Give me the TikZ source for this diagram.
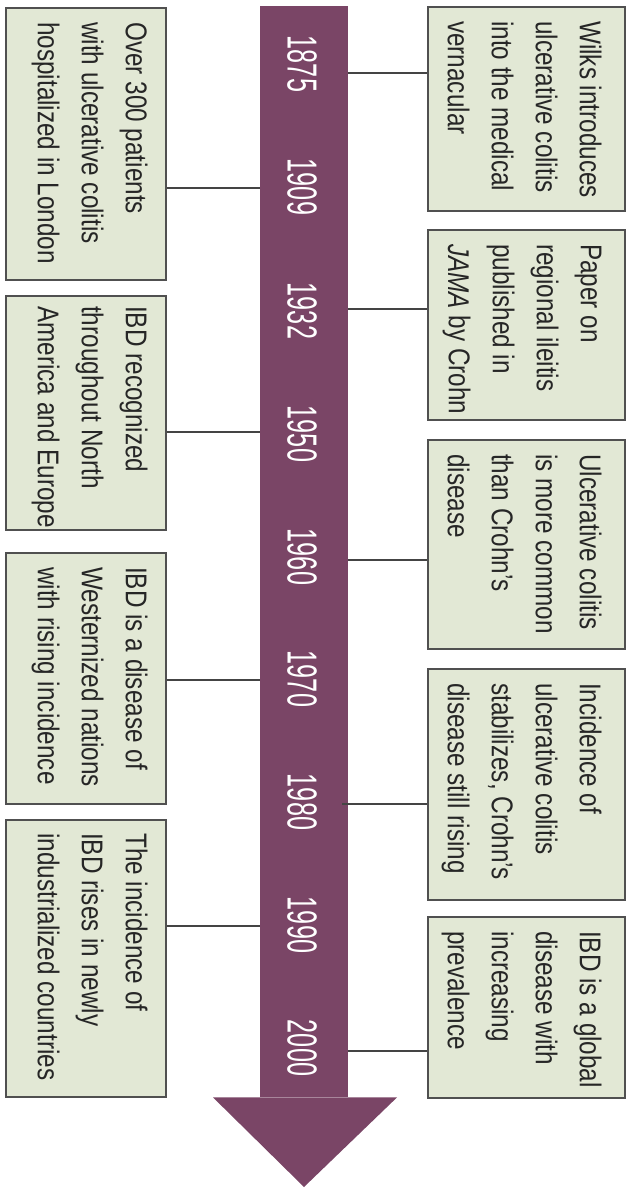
\documentclass[tikz,border=0pt]{standalone}
\usepackage{fontspec}
\setmainfont{Liberation Sans}[FakeStretch=0.81]
\newfontfamily\yearfont{Liberation Sans}[FakeStretch=0.6]
\definecolor{plum}{HTML}{7A4566}
\definecolor{boxfill}{HTML}{E2E8D5}
\definecolor{boxline}{HTML}{505050}
\definecolor{linkline}{HTML}{444444}
\begin{document}
\begin{tikzpicture}[x=1pt,y=-1pt,
  evbox/.style={draw=boxline,fill=boxfill,line width=1.8pt,inner sep=0pt,anchor=north west},
  evtext/.style={rotate=-90,anchor=north west,inner sep=0pt,align=left,
    font=\fontsize{30}{44}\selectfont,text=black!85},
  yearlabel/.style={rotate=-90,inner sep=0pt,text=white,font=\yearfont\fontsize{42}{42}\selectfont},
  link/.style={draw=linkline,line width=1.6pt}]
\useasboundingbox (0,0) rectangle (629,1188);

% timeline shaft and head
\node[fill=plum,inner sep=0pt,minimum width=88,minimum height=1091,anchor=north] (shaft) at (304,6) {};
\fill[plum] ([xshift=-91pt]shaft.south) -- ([xshift=93pt]shaft.south) -- (304,1187) -- cycle;

% years
\node[yearlabel] (y1875) at (302,64) {1875};
\node[yearlabel] (y1909) at (302,187) {1909};
\node[yearlabel] (y1932) at (302,311) {1932};
\node[yearlabel] (y1950) at (302,434) {1950};
\node[yearlabel] (y1960) at (302,557) {1960};
\node[yearlabel] (y1970) at (302,679) {1970};
\node[yearlabel] (y1980) at (302,802) {1980};
\node[yearlabel] (y1990) at (302,925) {1990};
\node[yearlabel] (y2000) at (302,1048) {2000};

% heights where the links meet the shaft
\coordinate (c1875) at (0,73);
\coordinate (c1909) at (0,188);
\coordinate (c1932) at (0,309);
\coordinate (c1950) at (0,432);
\coordinate (c1960) at (0,560);
\coordinate (c1970) at (0,680);
\coordinate (c1980) at (0,804);
\coordinate (c1990) at (0,926);
\coordinate (c2000) at (0,1051);

% right-hand events
\node[evbox,minimum width=197,minimum height=204] (r1875) at (427,6) {};
\node[evbox,minimum width=197,minimum height=190] (r1932) at (427,229) {};
\node[evbox,minimum width=197,minimum height=209] (r1960) at (427,439) {};
\node[evbox,minimum width=197,minimum height=231] (r1980) at (427,668) {};
\node[evbox,minimum width=197,minimum height=181] (r2000) at (427,916) {};

\node[evtext] (t1875) at ([shift={(-24,15)}]r1875.north east) {Wilks introduces\\ulcerative colitis\\into the medical\\vernacular};
\node[evtext] (t1932) at ([shift={(-24,15)}]r1932.north east) {Paper on\\regional ileitis\\published in\\\textit{JAMA} by Crohn};
\node[evtext] (t1960) at ([shift={(-24,15)}]r1960.north east) {Ulcerative colitis\\is more common\\than Crohn’s\\disease};
\node[evtext] (t1980) at ([shift={(-24,15)}]r1980.north east) {Incidence of\\ulcerative colitis\\stabilizes, Crohn’s\\disease still rising};
\node[evtext] (t2000) at ([shift={(-24,15)}]r2000.north east) {IBD is a global\\disease with\\increasing\\prevalence};

% left-hand events
\node[evbox,minimum width=160,minimum height=272] (l1909) at (5,7) {};
\node[evbox,minimum width=160,minimum height=234] (l1950) at (5,295) {};
\node[evbox,minimum width=160,minimum height=251] (l1970) at (5,552) {};
\node[evbox,minimum width=160,minimum height=277] (l1990) at (5,819) {};

\node[evtext] (t1909) at ([shift={(-19,15)}]l1909.north east) {Over 300 patients\\with ulcerative colitis\\hospitalized in London};
\node[evtext] (t1950) at ([shift={(-19,11)}]l1950.north east) {IBD recognized\\throughout North\\America and Europe};
\node[evtext] (t1970) at ([shift={(-19,15)}]l1970.north east) {IBD is a disease of\\Westernized nations\\with rising incidence};
\node[evtext] (t1990) at ([shift={(-19,14)}]l1990.north east) {The incidence of\\IBD rises in newly\\industrialized countries};

% links between shaft and events
\draw[link] (shaft.east |- c1875) -- (r1875.west |- c1875);
\draw[link] (shaft.east |- c1932) -- (r1932.west |- c1932);
\draw[link] (shaft.east |- c1960) -- (r1960.west |- c1960);
\draw[link] ([xshift=-6pt]shaft.east |- c1980) -- (r1980.west |- c1980);
\draw[link] (shaft.east |- c2000) -- (r2000.west |- c2000);
\draw[link] (l1909.east |- c1909) -- (shaft.west |- c1909);
\draw[link] (l1950.east |- c1950) -- (shaft.west |- c1950);
\draw[link] (l1970.east |- c1970) -- (shaft.west |- c1970);
\draw[link] (l1990.east |- c1990) -- (shaft.west |- c1990);
\end{tikzpicture}
\end{document}
